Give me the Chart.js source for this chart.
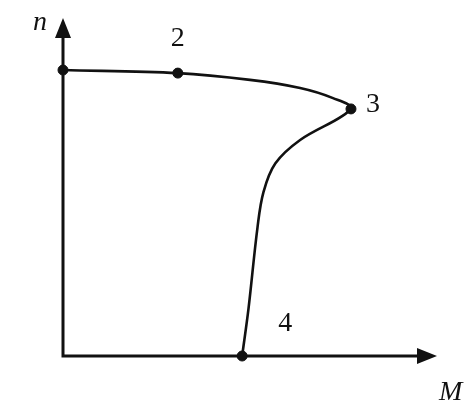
<!DOCTYPE html>
<html>
<head>
<meta charset="utf-8">
<script src="https://cdn.jsdelivr.net/npm/chart.js@4"></script>
<style>
  html, body { margin: 0; padding: 0; background: #fff; }
  #wrap { width: 470px; height: 405px; }
</style>
</head>
<body>
<div id="wrap"><canvas id="grafico"></canvas></div>
<script>
// curva n(M) (unidades relativas 0..100)
const curvaM = [0, 30.7, 50, 63.4, 72.2, 77, 63.4, 56.8, 53.6, 52, 49.6, 47.9]
const curvaN = [84.6, 83.7, 81.7, 79.3, 76.3, 73.1, 63.9, 57, 48.5, 38, 14, 0]

// pontos marcados
const pontosM = [0, 30.7, 77, 47.9]
const pontosN = [84.6, 83.7, 73.1, 0]
const pontosLabel = ["", "2", "3", "4"]

const eixoX = "M"
const eixoY = "n"

const cor = "#111"

const eixos = {
  id: "eixos",
  beforeDatasetsDraw(chart) {
    const ctx = chart.ctx
    const x = chart.scales.x
    const y = chart.scales.y
    const x0 = x.getPixelForValue(0)
    const y0 = y.getPixelForValue(0)
    const xMax = x.getPixelForValue(x.max)
    const yMax = y.getPixelForValue(y.max)
    ctx.save()
    ctx.strokeStyle = cor
    ctx.fillStyle = cor
    ctx.lineWidth = 3
    ctx.beginPath()
    ctx.moveTo(x0, yMax + 15)
    ctx.lineTo(x0, y0)
    ctx.lineTo(xMax - 15, y0)
    ctx.stroke()
    // setas
    ctx.beginPath()
    ctx.moveTo(x0, yMax)
    ctx.lineTo(x0 - 8, yMax + 20)
    ctx.lineTo(x0 + 8, yMax + 20)
    ctx.closePath()
    ctx.fill()
    ctx.beginPath()
    ctx.moveTo(xMax, y0)
    ctx.lineTo(xMax - 20, y0 - 8)
    ctx.lineTo(xMax - 20, y0 + 8)
    ctx.closePath()
    ctx.fill()
    // nomes dos eixos
    ctx.font = "italic 28px 'Liberation Serif', serif"
    ctx.textBaseline = "alphabetic"
    ctx.textAlign = "left"
    ctx.fillText(eixoY, x0 - 30, yMax + 12)
    ctx.fillText(eixoX, xMax + 2, y0 + 44)
    ctx.restore()
  },
  afterDatasetsDraw(chart) {
    const ctx = chart.ctx
    const x = chart.scales.x
    const y = chart.scales.y
    const desloc = [[0, 0], [0, -34], [22, -4], [43, -32]]
    ctx.save()
    ctx.fillStyle = cor
    ctx.font = "28px 'Liberation Serif', serif"
    ctx.textAlign = "center"
    ctx.textBaseline = "middle"
    pontosLabel.forEach((t, i) => {
      if (!t) return
      const px = x.getPixelForValue(pontosM[i]) + desloc[i][0]
      const py = y.getPixelForValue(pontosN[i]) + desloc[i][1]
      ctx.fillText(t, px, py)
    })
    ctx.restore()
  }
}

new Chart(document.getElementById("grafico"), {
  type: "scatter",
  data: {
    datasets: [
      {
        data: curvaM.map((m, i) => ({ x: m, y: curvaN[i] })),
        showLine: true,
        borderColor: cor,
        borderWidth: 2.6,
        pointRadius: 0,
        tension: 0.35,
        clip: false
      },
      {
        data: pontosM.map((m, i) => ({ x: m, y: pontosN[i] })),
        showLine: false,
        pointRadius: 5,
        backgroundColor: cor,
        borderColor: cor,
        clip: false
      }
    ]
  },
  options: {
    responsive: true,
    maintainAspectRatio: false,
    animation: false,
    layout: { padding: { left: 63, right: 33, top: 18, bottom: 49 } },
    plugins: { legend: { display: false }, tooltip: { enabled: false } },
    scales: {
      x: { type: "linear", min: 0, max: 100, display: false },
      y: { type: "linear", min: 0, max: 100, display: false }
    }
  },
  plugins: [eixos]
})
</script>
</body>
</html>
